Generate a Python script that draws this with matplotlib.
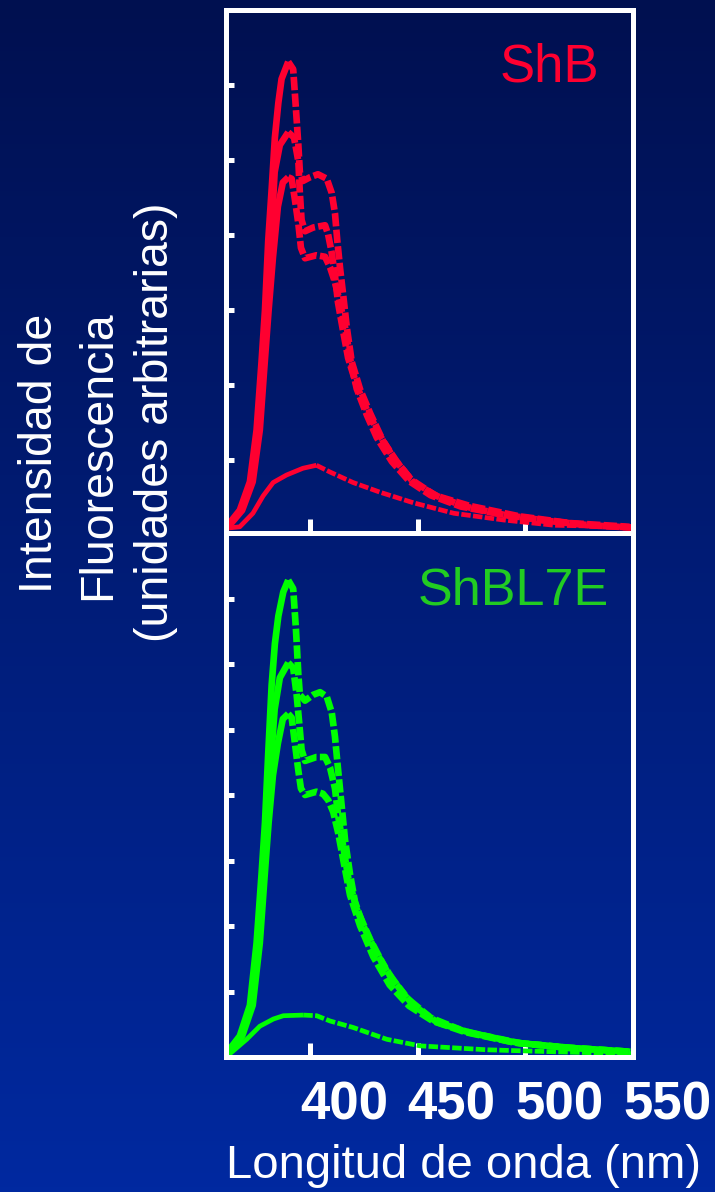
import numpy as np
import matplotlib
matplotlib.use("Agg")
import matplotlib.pyplot as plt
from matplotlib.colors import LinearSegmentedColormap
from matplotlib.transforms import ScaledTranslation

plt.rcParams['font.family'] = ['Liberation Sans', 'DejaVu Sans']

# ---- data ----
# ShB panel
shb_a_wl = [361.3, 367.4, 372.1, 375.2, 377.5, 379.1, 380.6, 382.2, 383.7, 385.3, 386.8, 389.9,
            392.2, 393.5, 394.6, 395.3, 396.7, 400.0, 403.7, 407.8, 410.1, 411.6, 412.7, 414.0,
            415.5, 417.1, 419.4, 423.3, 428.0, 434.0, 440.3, 448.0, 459.0, 474.0, 497.2, 520.5, 548.4]
shb_a_int = [0.11, 0.33, 0.71, 1.40, 2.31, 3.00, 3.92, 4.61, 5.30, 5.76, 6.08, 6.31,
             6.21, 5.67, 5.20, 4.84, 4.72, 4.77, 4.81, 4.75, 4.56, 4.29, 3.92, 3.55,
             3.18, 2.77, 2.31, 1.94, 1.62, 1.25, 0.98, 0.70, 0.52, 0.39, 0.25, 0.16, 0.11]

shb_b_wl = [361.5, 368.0, 372.8, 376.0, 378.3, 380.0, 381.8, 383.6, 386.0, 389.9, 392.6, 394.6,
            395.3, 396.1, 397.7, 401.5, 407.0, 408.4, 410.0, 411.6, 413.0, 415.3, 417.7, 421.7,
            426.4, 432.0, 439.0, 447.0, 458.0, 472.0, 490.0, 510.0, 530.0, 549.0]
shb_b_int = [0.10, 0.33, 0.71, 1.40, 2.31, 3.00, 3.90, 4.84, 5.20, 5.37, 5.30, 4.98,
             4.56, 4.20, 4.05, 4.10, 4.13, 4.01, 3.78, 3.46, 3.10, 2.73, 2.36, 1.99,
             1.67, 1.35, 1.02, 0.74, 0.53, 0.38, 0.27, 0.19, 0.13, 0.10]

shb_c_wl = [361.7, 368.5, 373.4, 376.7, 379.0, 380.8, 382.8, 385.1, 387.4, 389.9, 391.5, 393.0,
            394.6, 395.8, 397.7, 403.0, 407.0, 409.3, 411.6, 414.0, 416.3, 419.0, 421.7, 426.4,
            431.0, 438.0, 446.0, 456.0, 470.0, 490.0, 510.0, 530.0, 549.0]
shb_c_int = [0.10, 0.33, 0.71, 1.40, 2.31, 3.00, 3.70, 4.38, 4.70, 4.77, 4.75, 4.47,
             4.15, 3.83, 3.69, 3.73, 3.71, 3.57, 3.37, 3.09, 2.77, 2.30, 1.95, 1.60,
             1.30, 0.98, 0.72, 0.53, 0.38, 0.27, 0.19, 0.13, 0.10]

shb_d_wl = [361.0, 367.4, 373.5, 378.2, 382.9, 389.1, 396.7, 403.0, 409.3, 420.0, 432.6, 448.0,
            466.8, 490.0, 513.5, 549.0]
shb_d_int = [0.09, 0.11, 0.29, 0.52, 0.70, 0.80, 0.89, 0.93, 0.84, 0.70, 0.57, 0.43,
             0.29, 0.20, 0.13, 0.11]

# ShBL7E panel
l7e_a_wl = [361.3, 367.4, 372.1, 375.2, 377.5, 379.1, 380.6, 382.2, 383.7, 385.3, 387.6, 389.9,
            392.2, 393.5, 394.6, 395.3, 397.7, 401.5, 404.7, 407.8, 410.1, 411.6, 413.1, 414.7,
            416.3, 418.6, 420.9, 424.8, 431.0, 438.8, 448.0, 459.0, 474.4, 497.7, 521.0, 548.8]
l7e_a_int = [0.06, 0.32, 0.79, 1.74, 2.79, 3.58, 4.63, 5.68, 6.31, 6.73, 7.10, 7.28,
             7.15, 6.52, 5.84, 5.53, 5.44, 5.53, 5.57, 5.50, 5.26, 4.89, 4.37, 3.84,
             3.31, 2.79, 2.37, 2.00, 1.58, 1.16, 0.79, 0.53, 0.37, 0.21, 0.14, 0.08]

l7e_b_wl = [361.5, 368.0, 372.8, 376.0, 378.3, 380.0, 381.8, 383.6, 386.0, 389.9, 392.2, 393.8,
            395.0, 396.1, 397.7, 403.0, 407.0, 409.3, 411.6, 413.1, 415.5, 417.8, 421.7, 428.0,
            435.7, 445.0, 456.0, 471.0, 495.0, 520.0, 549.0]
l7e_b_int = [0.06, 0.32, 0.79, 1.74, 2.79, 3.58, 4.50, 5.31, 5.79, 6.02, 5.94, 5.53,
             5.10, 4.69, 4.52, 4.58, 4.58, 4.42, 4.10, 3.68, 3.20, 2.73, 2.26, 1.79,
             1.31, 0.90, 0.60, 0.40, 0.22, 0.14, 0.08]

l7e_c_wl = [361.7, 368.5, 373.4, 376.7, 379.0, 380.8, 382.8, 385.1, 387.4, 389.9, 391.5, 393.0,
            394.6, 395.8, 397.7, 403.0, 406.0, 408.5, 410.8, 413.1, 415.5, 418.6, 423.3, 429.4,
            437.0, 446.0, 457.0, 472.0, 495.0, 520.0, 549.0]
l7e_c_int = [0.06, 0.32, 0.79, 1.74, 2.79, 3.58, 4.30, 4.79, 5.16, 5.24, 5.18, 4.79,
             4.37, 4.10, 4.00, 4.05, 4.02, 3.92, 3.74, 3.42, 3.00, 2.47, 2.00, 1.53,
             1.10, 0.78, 0.55, 0.38, 0.22, 0.14, 0.08]

l7e_d_wl = [361.0, 362.8, 370.6, 376.7, 383.0, 387.6, 396.9, 403.1, 409.3, 420.1, 435.7, 451.2,
            482.2, 513.2, 549.0]
l7e_d_int = [0.03, 0.05, 0.27, 0.47, 0.58, 0.63, 0.64, 0.63, 0.55, 0.45, 0.27, 0.17,
             0.11, 0.08, 0.05]

x_ticks = [400, 450, 500, 550]
x_tick_labels = ['400', '450', '500', '550']

RED = '#ff0030'
GREEN = '#00ff00'
GREEN_TXT = '#22cc22'
W, H = 715, 1192


def draw_curve(ax, wl, inten, color, lw=4.8):
    wl = np.array(wl)
    inten = np.array(inten)
    i = int(np.argmax(inten))
    # rising edge solid, falling edge broken up like the original
    ax.plot(wl[:i + 1], inten[:i + 1], color=color, lw=lw, solid_capstyle='butt')
    ax.plot(wl[i:], inten[i:], color=color, lw=lw, linestyle=(0, (2.0, 0.5)),
            dash_capstyle='butt')


def style_axes(ax, ylim, n_yticks):
    ax.set_facecolor('none')
    ax.set_xlim(361, 550)
    ax.set_ylim(*ylim)
    for s in ax.spines.values():
        s.set_color('white')
        s.set_linewidth(3.6)
    ax.set_yticks(range(1, n_yticks + 1))
    ax.set_yticklabels([])
    ax.tick_params(axis='y', direction='in', length=6, width=3.6, color='white')
    ax.set_xticks(x_ticks)
    ax.tick_params(axis='x', direction='in', length=10, width=3.6, color='white')


fig = plt.figure(figsize=(W / 100, H / 100), dpi=100)

# background gradient
bg = fig.add_axes([0, 0, 1, 1], zorder=-10)
cmap = LinearSegmentedColormap.from_list('bg', ['#001050', '#0029a0'])
bg.imshow(np.linspace(0, 1, 256).reshape(-1, 1), aspect='auto', cmap=cmap,
          extent=[0, 1, 0, 1])
bg.axis('off')

left, right = 226, 633
ax1 = fig.add_axes([left / W, 1 - 533 / H, (right - left) / W, (533 - 10) / H])
ax2 = fig.add_axes([left / W, 1 - 1057 / H, (right - left) / W, (1057 - 533) / H])

style_axes(ax1, (0.027, 7.0), 6)
style_axes(ax2, (0.0, 8.0), 7)
ax1.set_xticklabels([])

for wl, y in [(shb_d_wl, shb_d_int), (shb_c_wl, shb_c_int),
              (shb_b_wl, shb_b_int), (shb_a_wl, shb_a_int)]:
    draw_curve(ax1, wl, y, RED, lw=3.4 if wl is shb_d_wl else 4.8)

for wl, y in [(l7e_d_wl, l7e_d_int), (l7e_c_wl, l7e_c_int),
              (l7e_b_wl, l7e_b_int), (l7e_a_wl, l7e_a_int)]:
    draw_curve(ax2, wl, y, GREEN, lw=3.4 if wl is l7e_d_wl else 4.8)

ax1.text(0.673, 0.864, 'ShB', transform=ax1.transAxes, color=RED, fontsize=38,
         ha='left', va='baseline')
ax2.text(0.472, 0.8645, 'ShBL7E', transform=ax2.transAxes, color=GREEN_TXT, fontsize=37.5,
         ha='left', va='baseline')

# bottom tick labels (shifted right as in the original slide)
ax2.set_xticklabels(x_tick_labels, fontsize=38, fontweight='bold', color='white')
ax2.tick_params(axis='x', pad=17)
shift = ScaledTranslation(0.34, 0, fig.dpi_scale_trans)
for lbl in ax2.get_xticklabels():
    lbl.set_transform(lbl.get_transform() + shift)

fig.text(464 / W, 1 - 1178 / H, 'Longitud de onda (nm)', color='white', fontsize=34,
         ha='center', va='baseline')

ylab = [('Intensidad de', 52, 453), ('Fluorescencia', 110, 455),
        ('(unidades arbitrarias)', 168, 422)]
for txt, xb, yc in ylab:
    fig.text(xb / W, 1 - yc / H, txt, color='white', fontsize=33.5, rotation=90,
             rotation_mode='anchor', ha='center', va='baseline')

plt.savefig('out.png', dpi=100)
